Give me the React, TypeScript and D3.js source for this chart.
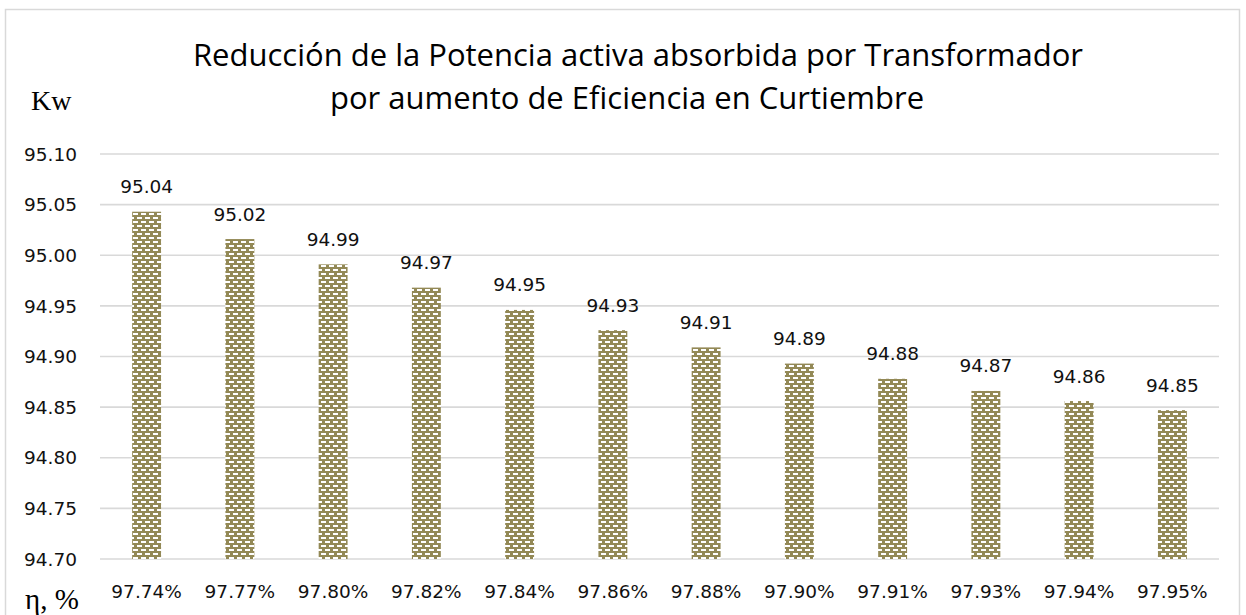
import { useEffect, useRef } from "react";
import * as d3 from "d3";

// eficiencia del transformador (eje x)
const efficiencies = ["97.74%", "97.77%", "97.80%", "97.82%", "97.84%", "97.86%", "97.88%", "97.90%", "97.91%", "97.93%", "97.94%", "97.95%"];
// potencia activa absorbida, Kw
const powerKw = [95.043, 95.016, 94.991, 94.968, 94.946, 94.926, 94.909, 94.893, 94.878, 94.866, 94.856, 94.847];
const yTicks = [94.7, 94.75, 94.8, 94.85, 94.9, 94.95, 95.0, 95.05, 95.1];
const titleLines = ["Reducción de la Potencia activa absorbida por Transformador", "por aumento de Eficiencia en Curtiembre"];

const App = () => {
  const svgRef = useRef<SVGSVGElement>(null);

  useEffect(() => {
    const w = 1246;
    const h = 615;
    const svg = d3.select(svgRef.current);
    svg.selectAll("*").remove();

    const margin = { left: 100, right: 27, top: 154, bottom: 56 };

    // patron de la barra (ladrillo / guiones)
    const defs = svg.append("defs");
    const pat = defs
      .append("pattern")
      .attr("id", "brick")
      .attr("patternUnits", "userSpaceOnUse")
      .attr("width", 8)
      .attr("height", 8);
    pat.append("rect").attr("width", 8).attr("height", 8).attr("fill", "#938956");
    pat.append("rect").attr("x", 1).attr("y", 1).attr("width", 5).attr("height", 2).attr("fill", "#fff");
    pat.append("rect").attr("x", 5).attr("y", 5).attr("width", 5).attr("height", 2).attr("fill", "#fff");
    pat.append("rect").attr("x", -3).attr("y", 5).attr("width", 5).attr("height", 2).attr("fill", "#fff");

    // marco del grafico
    svg
      .append("rect")
      .attr("x", 5.5)
      .attr("y", 9.5)
      .attr("width", 1234)
      .attr("height", 620)
      .attr("fill", "#fff")
      .attr("stroke", "#d9d9d9")
      .attr("stroke-width", 1.5);

    const xScale = d3
      .scaleBand()
      .domain(efficiencies)
      .range([margin.left, w - margin.right])
      .paddingInner(0.69)
      .paddingOuter(0.345);

    const yScale = d3
      .scaleLinear()
      .domain([94.7, 95.1])
      .range([h - margin.bottom, margin.top]);

    // lineas de cuadricula
    svg
      .append("g")
      .selectAll("line")
      .data(yTicks)
      .join("line")
      .attr("x1", margin.left)
      .attr("x2", w - margin.right)
      .attr("y1", (d) => yScale(d))
      .attr("y2", (d) => yScale(d))
      .attr("stroke", "#d9d9d9")
      .attr("stroke-width", 1.6);

    // eje y
    svg
      .append("g")
      .selectAll("text")
      .data(yTicks)
      .join("text")
      .attr("x", 77)
      .attr("y", (d) => yScale(d))
      .attr("dy", "0.36em")
      .attr("text-anchor", "end")
      .attr("font-family", "DejaVu Sans")
      .attr("font-size", 18.5)
      .attr("fill", "#111")
      .text((d) => d.toFixed(2));

    // barras
    svg
      .append("g")
      .selectAll("rect")
      .data(powerKw)
      .join("rect")
      .attr("x", (d, i) => xScale(efficiencies[i]))
      .attr("width", xScale.bandwidth())
      .attr("y", (d) => yScale(d))
      .attr("height", (d) => yScale(94.7) - yScale(d))
      .attr("fill", "url(#brick)");

    // etiquetas de datos
    svg
      .append("g")
      .selectAll("text")
      .data(powerKw)
      .join("text")
      .attr("x", (d, i) => xScale(efficiencies[i]) + xScale.bandwidth() / 2)
      .attr("y", (d) => yScale(d) - 18.5)
      .attr("text-anchor", "middle")
      .attr("font-family", "DejaVu Sans")
      .attr("font-size", 18.5)
      .attr("fill", "#111")
      .text((d) => d.toFixed(2));

    // eje x
    svg
      .append("g")
      .selectAll("text")
      .data(efficiencies)
      .join("text")
      .attr("x", (d) => xScale(d) + xScale.bandwidth() / 2)
      .attr("y", 598)
      .attr("text-anchor", "middle")
      .attr("font-family", "DejaVu Sans")
      .attr("font-size", 18.5)
      .attr("fill", "#111")
      .text((d) => d);

    // titulo
    svg
      .append("g")
      .selectAll("text")
      .data(titleLines)
      .join("text")
      .attr("x", (d, i) => (i === 0 ? 638 : 627))
      .attr("y", (d, i) => (i === 0 ? 66 : 109))
      .attr("text-anchor", "middle")
      .attr("font-family", "Open Sans")
      .attr("font-size", 31)
      .attr("fill", "#000")
      .text((d) => d);

    // unidades
    svg
      .append("text")
      .attr("x", 31)
      .attr("y", 110)
      .attr("font-family", "Liberation Serif")
      .attr("font-size", 28)
      .attr("fill", "#000")
      .text("Kw");
    svg
      .append("text")
      .attr("x", 25)
      .attr("y", 609)
      .attr("font-family", "Liberation Serif")
      .attr("font-size", 29)
      .attr("fill", "#000")
      .text("η, %");
  }, []);

  return (
    <svg
      ref={svgRef}
      width={1246}
      height={615}
      style={{ position: "absolute", left: 0, top: 0, display: "block" }}
    ></svg>
  );
};

export default App;
